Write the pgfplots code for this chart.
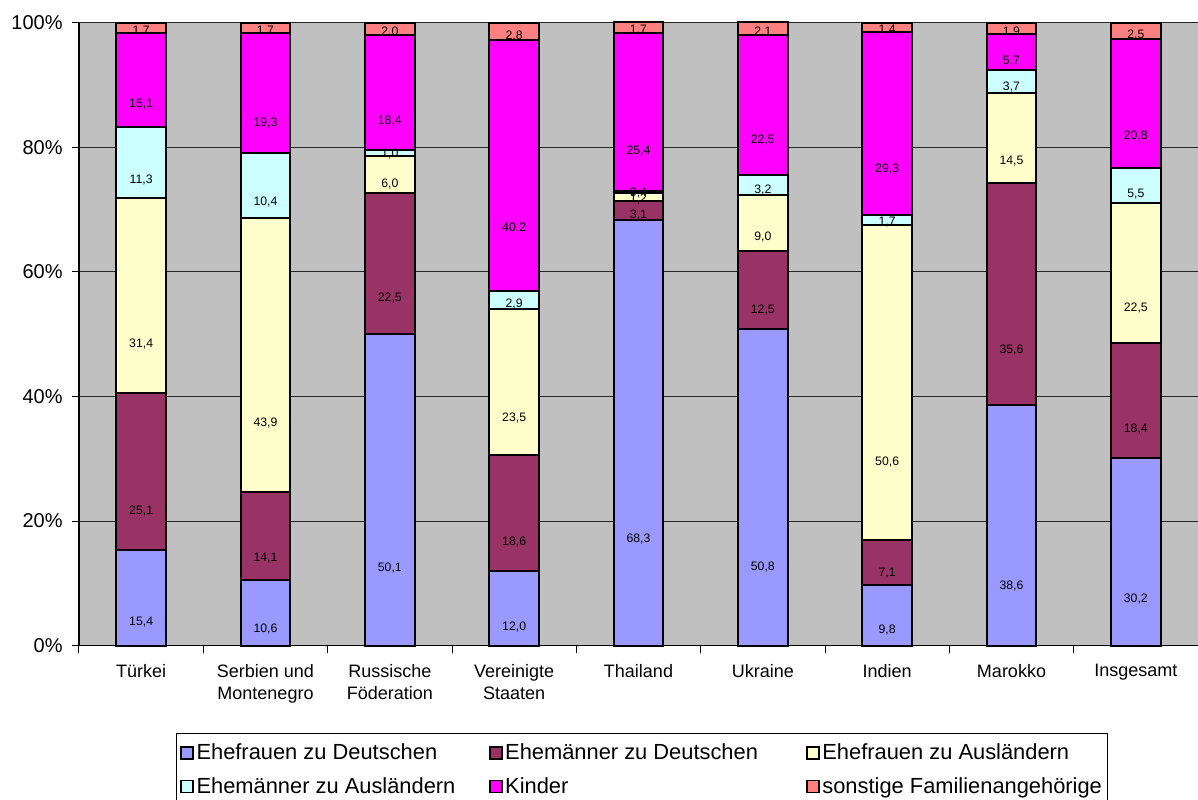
\documentclass[border=0pt]{standalone}
\usepackage{pgfplots}
\pgfplotsset{compat=1.18}
\usepackage{pgfplotstable}
\usepackage{fontspec}
\setmainfont{Liberation Sans}
\definecolor{cA}{HTML}{9999FF}
\definecolor{cB}{HTML}{993366}
\definecolor{cC}{HTML}{FFFFCC}
\definecolor{cD}{HTML}{CCFFFF}
\definecolor{cE}{HTML}{FF00FF}
\definecolor{cF}{HTML}{FF8080}
\definecolor{chartgray}{HTML}{C0C0C0}
\pgfplotstableread{
x a b c d e f
0 15.4 25.1 31.4 11.3 15.1 1.7
1 10.6 14.1 43.9 10.4 19.3 1.7
2 50.1 22.5 6.0 1.0 18.4 2.0
3 12.0 18.6 23.5 2.9 40.2 2.8
4 68.3 3.1 1.2 0.4 25.4 1.7
5 50.8 12.5 9.0 3.2 22.5 2.1
6 9.8 7.1 50.6 1.7 29.3 1.4
7 38.6 35.6 14.5 3.7 5.7 1.9
8 30.2 18.4 22.5 5.5 20.8 2.5
}\data
\begin{document}
\begin{tikzpicture}
\begin{axis}[
  at={(0,0)}, anchor=south west,
  width=839.25pt, height=467.25pt, scale only axis,
  clip=false,
  ybar stacked, bar width=0.4,
  xmin=-0.5, xmax=8.5, ymin=0, ymax=100,
  xtick={0,...,8},
  xticklabels={Türkei,{Serbien und\\Montenegro},{Russische\\Föderation},{Vereinigte\\Staaten},Thailand,Ukraine,Indien,Marokko,Insgesamt},
  xticklabel style={align=center, font=\fontsize{13.5}{16.5}\selectfont, yshift=-5pt},
  major x tick style={draw=none},
  minor xtick={-0.5,0.5,...,8.5},
  minor x tick style={black, line width=0.75pt},
  minor tick length=5.25pt,
  ytick={0,20,...,100},
  yticklabel={\pgfmathprintnumber{\tick}\%},
  yticklabel style={font=\fontsize{15}{18}\selectfont, xshift=-3.5pt},
  /pgf/number format/assume math mode=true,
  y tick style={black, line width=0.75pt},
  ymajorgrids, grid style={black!85, line width=0.75pt},
  axis background/.style={fill=chartgray},
  axis x line*=bottom, axis y line*=left,
  axis line style={black, line width=0.9pt},
  tick align=outside, major tick length=5.25pt,
  every axis plot/.append style={draw=black, line width=1.5pt},
  visualization depends on=rawy \as \rawy,
  nodes near coords={\pgfmathprintnumber[fixed,fixed zerofill,precision=1,use comma,assume math mode=true]{\rawy}},
  every node near coord/.append style={anchor=center, font=\fontsize{9.2}{10}\selectfont, text=black, shift={(axis direction cs:0,-\rawy/4)}},
  legend columns=3,
  legend cell align=left,
  legend style={at={(0.4987,0)}, anchor=north, yshift=-65.25pt, xshift=4pt, draw=black, line width=0.75pt,
    font=\fontsize{16.4}{19}\selectfont, inner xsep=2.5pt, inner ysep=6pt, row sep=8pt,
    nodes={inner xsep=2pt},
    /tikz/column 2/.style={column sep=23pt},
    /tikz/column 4/.style={column sep=34pt},
    /tikz/every odd column/.append style={column sep=0pt}},
  legend image code/.code={\draw[#1, draw=black, line width=1.3pt] (0pt,-4.5pt) rectangle (9pt,4.5pt);},
]
\addplot[fill=cA] table[x=x,y=a]{\data};
\addplot[fill=cB] table[x=x,y=b]{\data};
\addplot[fill=cC] table[x=x,y=c]{\data};
\addplot[fill=cD] table[x=x,y=d]{\data};
\addplot[fill=cE] table[x=x,y=e]{\data};
\addplot[fill=cF] table[x=x,y=f]{\data};
\legend{Ehefrauen zu Deutschen,Ehemänner zu Deutschen,Ehefrauen zu Ausländern,Ehemänner zu Ausländern,Kinder,sonstige Familienangehörige}
\end{axis}
\pgfresetboundingbox
\path (-59.25pt,-115.5pt) rectangle (839.25pt,484.25pt);
\end{tikzpicture}
\end{document}
